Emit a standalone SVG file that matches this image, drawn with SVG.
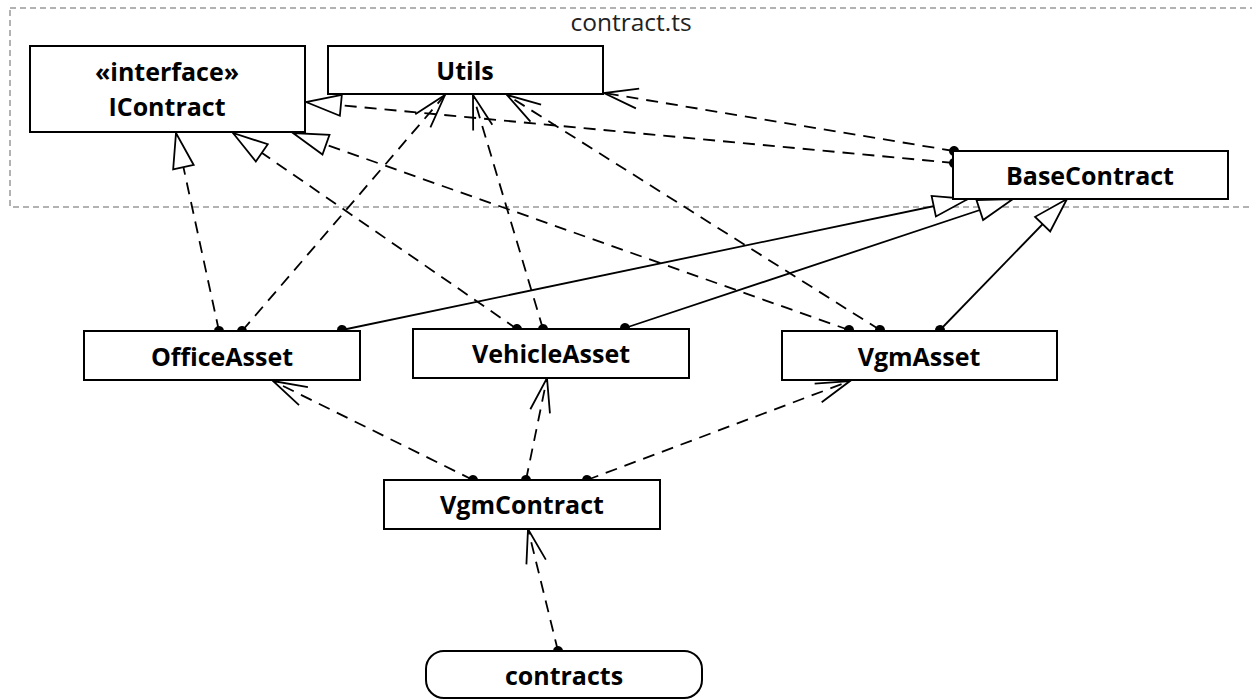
<svg xmlns="http://www.w3.org/2000/svg" width="1252" height="700" viewBox="0 0 1252 700">
  <style>
    .node { fill: #ffffff; stroke: #000000; stroke-width: 2; }
    .name { font-family: "Open Sans", "Noto Sans", "DejaVu Sans", sans-serif; font-weight: bold; font-size: 25px; fill: #000000; text-anchor: middle; }
    .pkg { fill: none; stroke: #999999; stroke-width: 1.5; stroke-dasharray: 6,4; }
    .pkg-label { font-family: "Open Sans", "Noto Sans", "DejaVu Sans", sans-serif; font-size: 24.5px; fill: #222222; text-anchor: middle; }
    .edge { fill: none; stroke: #000000; stroke-width: 1.8; }
    .dashed { stroke-dasharray: 12,8; }
  </style>
  <defs>
    <marker id="dot" markerUnits="userSpaceOnUse" markerWidth="12" markerHeight="12" viewBox="-6 -6 12 12" refX="0" refY="0" orient="auto">
      <circle cx="0" cy="0" r="5" fill="#000000"/>
    </marker>
    <marker id="triangle" markerUnits="userSpaceOnUse" markerWidth="40" markerHeight="26" viewBox="-38 -13 40 26" refX="0" refY="0" orient="auto" overflow="visible">
      <path d="M0,0 L-35,-10.5 L-35,10.5 Z" fill="#ffffff" stroke="#000000" stroke-width="1.8" stroke-dasharray="none" stroke-linejoin="miter"/>
    </marker>
    <marker id="open" markerUnits="userSpaceOnUse" markerWidth="40" markerHeight="26" viewBox="-38 -13 40 26" refX="0" refY="0" orient="auto" overflow="visible">
      <path d="M-34,-10 L0,0 L-34,10" fill="none" stroke="#000000" stroke-width="1.8" stroke-dasharray="none"/>
    </marker>
  </defs>

  <rect width="1252" height="700" fill="#ffffff"/>

  <!-- package contract.ts -->
  <g id="package-contract-ts">
    <rect class="pkg" x="10" y="8" width="1260" height="199"/>
    <text class="pkg-label" x="631" y="31">contract.ts</text>
  </g>

  <!-- connectors -->
  <g id="connectors">
    <!-- realizations of IContract -->
    <line class="edge dashed" x1="219" y1="331" x2="176" y2="133" marker-start="url(#dot)" marker-end="url(#triangle)"/>
    <line class="edge dashed" x1="517" y1="329" x2="233" y2="133" marker-start="url(#dot)" marker-end="url(#triangle)"/>
    <line class="edge dashed" x1="849" y1="330" x2="293" y2="133" marker-start="url(#dot)" marker-end="url(#triangle)"/>
    <line class="edge dashed" x1="954" y1="163" x2="306" y2="102" marker-start="url(#dot)" marker-end="url(#triangle)"/>
    <!-- generalizations of BaseContract -->
    <line class="edge" x1="342" y1="330" x2="968" y2="199" marker-start="url(#dot)" marker-end="url(#triangle)"/>
    <line class="edge" x1="625" y1="328" x2="1013" y2="199" marker-start="url(#dot)" marker-end="url(#triangle)"/>
    <line class="edge" x1="940" y1="330" x2="1067" y2="199" marker-start="url(#dot)" marker-end="url(#triangle)"/>
    <!-- dependencies on Utils -->
    <line class="edge dashed" x1="242" y1="331" x2="445" y2="95" marker-start="url(#dot)" marker-end="url(#open)"/>
    <line class="edge dashed" x1="543" y1="329" x2="473" y2="95" marker-start="url(#dot)" marker-end="url(#open)"/>
    <line class="edge dashed" x1="880" y1="330" x2="507" y2="95" marker-start="url(#dot)" marker-end="url(#open)"/>
    <line class="edge dashed" x1="954" y1="151" x2="604" y2="93" marker-start="url(#dot)" marker-end="url(#open)"/>
    <!-- VgmContract dependencies -->
    <line class="edge dashed" x1="473" y1="480" x2="273" y2="381" marker-start="url(#dot)" marker-end="url(#open)"/>
    <line class="edge dashed" x1="526" y1="480" x2="547" y2="378" marker-start="url(#dot)" marker-end="url(#open)"/>
    <line class="edge dashed" x1="587" y1="480" x2="850" y2="381" marker-start="url(#dot)" marker-end="url(#open)"/>
    <!-- contracts dependency -->
    <line class="edge dashed" x1="558" y1="651" x2="528" y2="529" marker-start="url(#dot)" marker-end="url(#open)"/>
  </g>

  <!-- nodes -->
  <g id="IContract">
    <rect class="node" x="30" y="46" width="275" height="86"/>
    <text class="name" x="167" y="81">«interface»</text>
    <text class="name" x="167" y="116">IContract</text>
  </g>
  <g id="Utils">
    <rect class="node" x="328" y="46" width="275" height="48"/>
    <text class="name" x="465" y="80">Utils</text>
  </g>
  <g id="BaseContract">
    <rect class="node" x="953" y="151" width="275" height="48"/>
    <text class="name" x="1090" y="185">BaseContract</text>
  </g>
  <g id="OfficeAsset">
    <rect class="node" x="84" y="331" width="276" height="49"/>
    <text class="name" x="222" y="366">OfficeAsset</text>
  </g>
  <g id="VehicleAsset">
    <rect class="node" x="413" y="329" width="276" height="49"/>
    <text class="name" x="551" y="363">VehicleAsset</text>
  </g>
  <g id="VgmAsset">
    <rect class="node" x="782" y="331" width="275" height="49"/>
    <text class="name" x="919" y="366">VgmAsset</text>
  </g>
  <g id="VgmContract">
    <rect class="node" x="384" y="480" width="276" height="49"/>
    <text class="name" x="522" y="514">VgmContract</text>
  </g>
  <g id="contracts">
    <rect class="node" x="426" y="651" width="276" height="47" rx="18" ry="18"/>
    <text class="name" x="564" y="685">contracts</text>
  </g>
</svg>
